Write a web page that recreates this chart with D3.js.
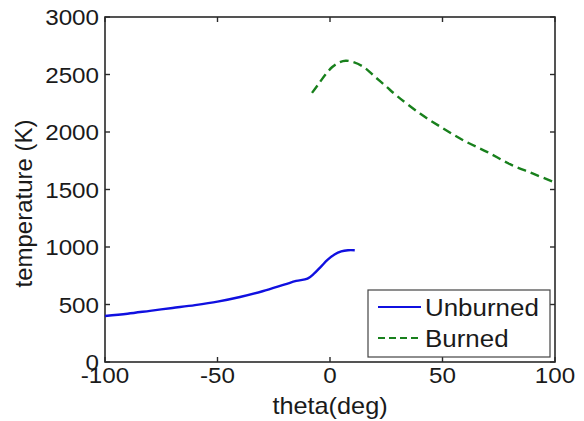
<!DOCTYPE html>
<html>
<head>
<meta charset="utf-8">
<script src="https://cdn.jsdelivr.net/npm/d3@7"></script>
<style>
  body { margin: 0; background: #fff; }
  text { font-family: "Liberation Sans", Arial, Helvetica, sans-serif; fill: #1a1a1a; }
</style>
</head>
<body>
<div id="chart"></div>
<script>
// values
let unburnedTheta = [-100, -90, -80, -70, -60, -50, -40, -30, -20, -15, -10, -7, -4, -1, 2, 5, 8, 11];
let unburnedTemp  = [400, 420, 445, 470, 495, 525, 565, 615, 675, 705, 725, 770, 830, 890, 935, 962, 972, 972];

let burnedTheta = [-8, -5, -2, 1, 4, 7, 10, 15, 20, 25, 30, 40, 50, 60, 70, 80, 90, 100];
let burnedTemp  = [2340, 2420, 2500, 2565, 2605, 2620, 2610, 2565, 2480, 2395, 2310, 2160, 2035, 1920, 1825, 1720, 1640, 1560];

let xTicks = [-100, -50, 0, 50, 100];
let yTicks = [0, 500, 1000, 1500, 2000, 2500, 3000];
let seriesNames = ["Unburned", "Burned"];

let drawChart = function(){
    let margin = { top: 17, bottom: 59, left: 105, right: 29 };
    let width = 584 - margin.left - margin.right;
    let height = 421 - margin.top - margin.bottom;

    let svg = d3.select("#chart")
        .append("svg")
        .attr("width", 584)
        .attr("height", 421)
        .append("g")
        .attr("transform", "translate(" + margin.left + "," + margin.top + ")");

    let x = d3.scaleLinear().domain([-100, 100]).range([0, width]);
    let y = d3.scaleLinear().domain([0, 3000]).range([height, 0]);

    let axisColor = "#2a2a2a";
    let tickLen = 5;

    // frame box
    svg.append("rect")
        .attr("x", 0).attr("y", 0)
        .attr("width", width).attr("height", height)
        .attr("fill", "none")
        .attr("stroke", axisColor)
        .attr("stroke-width", 1.6);

    // inward ticks on all four sides
    xTicks.forEach(function(t){
        svg.append("line").attr("x1", x(t)).attr("x2", x(t)).attr("y1", height).attr("y2", height - tickLen)
            .attr("stroke", axisColor).attr("stroke-width", 1.4);
        svg.append("line").attr("x1", x(t)).attr("x2", x(t)).attr("y1", 0).attr("y2", tickLen)
            .attr("stroke", axisColor).attr("stroke-width", 1.4);
        svg.append("text")
            .attr("transform", "translate(" + x(t) + "," + (height + 21) + ") scale(1.1,1)")
            .attr("text-anchor", "middle")
            .style("font-size", "22px")
            .text(t);
    });

    yTicks.forEach(function(t){
        svg.append("line").attr("x1", 0).attr("x2", tickLen).attr("y1", y(t)).attr("y2", y(t))
            .attr("stroke", axisColor).attr("stroke-width", 1.4);
        svg.append("line").attr("x1", width).attr("x2", width - tickLen).attr("y1", y(t)).attr("y2", y(t))
            .attr("stroke", axisColor).attr("stroke-width", 1.4);
        svg.append("text")
            .attr("transform", "translate(-6," + (y(t) + 8) + ") scale(1.1,1)")
            .attr("text-anchor", "end")
            .style("font-size", "22px")
            .text(t);
    });

    // axis labels
    svg.append("text")
        .attr("transform", "translate(" + (width / 2) + "," + (height + 52) + ") scale(1.1,1)")
        .attr("text-anchor", "middle")
        .style("font-size", "23px")
        .text("theta(deg)");

    svg.append("text")
        .attr("transform", "translate(-73," + (height / 2 + 14) + ") rotate(-90)")
        .attr("text-anchor", "middle")
        .style("font-size", "24px")
        .text("temperature (K)");

    let line = d3.line()
        .x(d => x(d[0]))
        .y(d => y(d[1]))
        .curve(d3.curveCatmullRom);

    let unburned = unburnedTheta.map((t, i) => [t, unburnedTemp[i]]);
    let burned = burnedTheta.map((t, i) => [t, burnedTemp[i]]);

    svg.append("path")
        .datum(unburned)
        .attr("fill", "none")
        .attr("stroke", "#1010e0")
        .attr("stroke-width", 2.4)
        .attr("d", line);

    svg.append("path")
        .datum(burned)
        .attr("fill", "none")
        .attr("stroke", "#18801c")
        .attr("stroke-width", 2.4)
        .style("stroke-dasharray", "9,5")
        .attr("d", line);

    // legend
    let lg = svg.append("g").attr("transform", "translate(" + (368 - margin.left) + "," + (290 - margin.top) + ")");
    lg.append("rect")
        .attr("x", 0).attr("y", 0)
        .attr("width", 182).attr("height", 67)
        .attr("fill", "#fff")
        .attr("stroke", "#444")
        .attr("stroke-width", 1.2);

    let styles = [
        { color: "#1010e0", dash: null },
        { color: "#18801c", dash: "7,4" }
    ];
    seriesNames.forEach(function(name, i){
        let cy = 17 + i * 31;
        lg.append("line")
            .attr("x1", 10).attr("x2", 53)
            .attr("y1", cy).attr("y2", cy)
            .attr("stroke", styles[i].color)
            .attr("stroke-width", 2)
            .style("stroke-dasharray", styles[i].dash);
        lg.append("text")
            .attr("transform", "translate(57," + (cy + 9) + ") scale(1.08,1)")
            .style("font-size", "24px")
            .text(name);
    });
}

drawChart();
</script>
</body>
</html>
